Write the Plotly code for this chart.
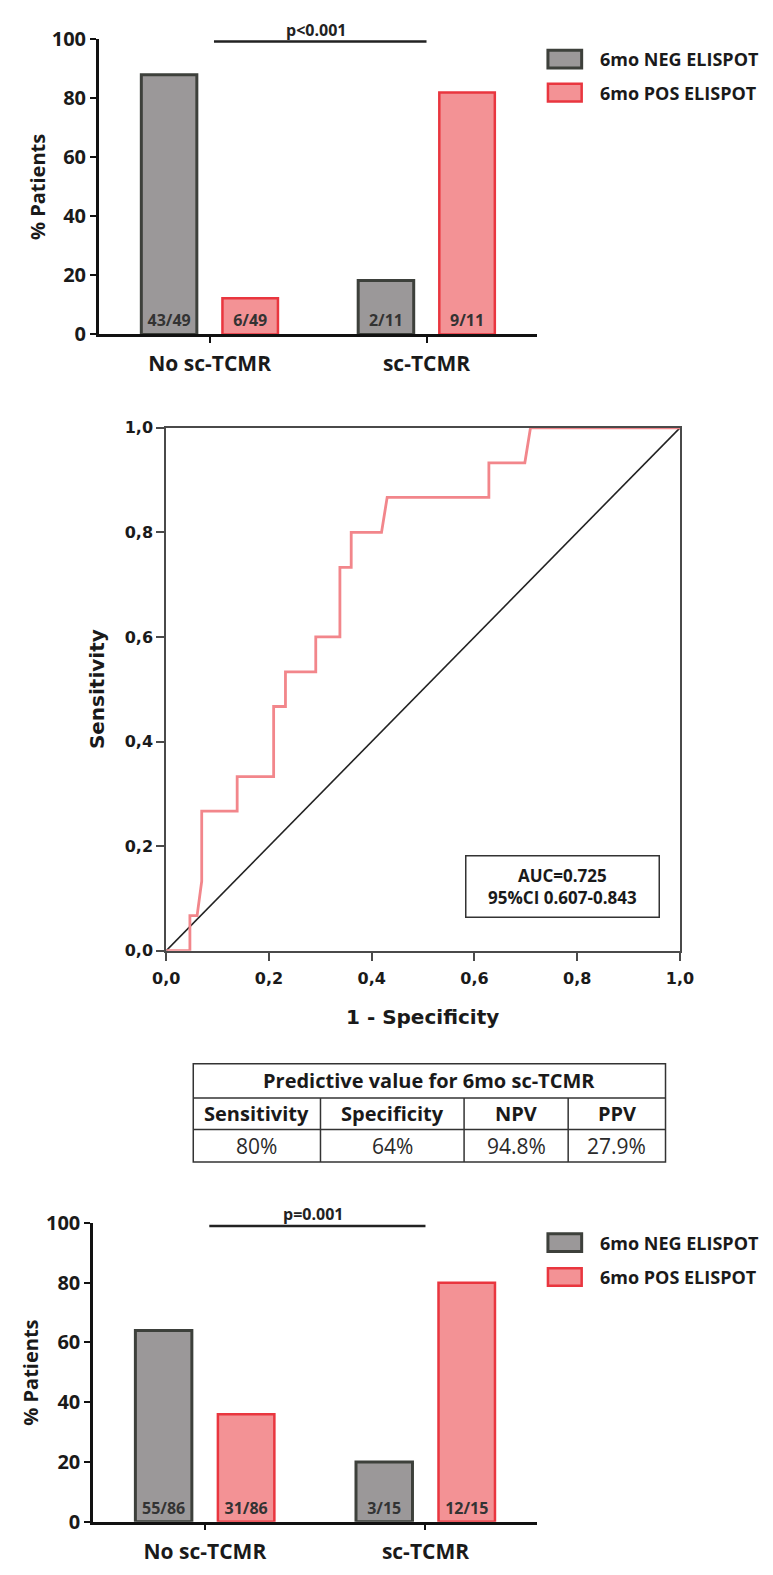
import plotly.graph_objects as go

W, H = 773, 1575

# ---------------- data ----------------
categories = ["No sc-TCMR", "sc-TCMR"]
series_names = ["6mo NEG ELISPOT", "6mo POS ELISPOT"]

top_neg = [87.8, 18.2]
top_pos = [12.2, 81.8]
top_neg_labels = ["43/49", "2/11"]
top_pos_labels = ["6/49", "9/11"]
top_p_text = "p<0.001"

bot_neg = [64.0, 20.0]
bot_pos = [36.0, 80.0]
bot_neg_labels = ["55/86", "3/15"]
bot_pos_labels = ["31/86", "12/15"]
bot_p_text = "p=0.001"

bar_ticks = [0, 20, 40, 60, 80, 100]
y_title_bar = "% Patients"

roc_fpr = [0.0, 0.046, 0.046, 0.060, 0.069, 0.069, 0.138, 0.138, 0.209, 0.209,
           0.232, 0.232, 0.291, 0.291, 0.338, 0.338, 0.360, 0.360, 0.419, 0.430,
           0.628, 0.628, 0.698, 0.709, 1.0]
roc_tpr = [0.0, 0.0, 0.067, 0.067, 0.133, 0.267, 0.267, 0.333, 0.333, 0.467,
           0.467, 0.533, 0.533, 0.600, 0.600, 0.733, 0.733, 0.800, 0.800, 0.867,
           0.867, 0.933, 0.933, 1.0, 1.0]
diag = [0.0, 1.0]
roc_ticks = [0.0, 0.2, 0.4, 0.6, 0.8, 1.0]
roc_ticktext = ["0,0", "0,2", "0,4", "0,6", "0,8", "1,0"]
roc_xtitle = "1 - Specificity"
roc_ytitle = "Sensitivity"
auc_lines = ["AUC=0.725", "95%CI 0.607-0.843"]

table_title = "Predictive value for 6mo sc-TCMR"
table_headers = ["Sensitivity", "Specificity", "NPV", "PPV"]
table_values = ["80%", "64%", "94.8%", "27.9%"]

# ---------------- styles ----------------
GRAY_FILL, GRAY_LINE = "#9b9899", "#3d403b"
RED_FILL, RED_LINE = "#f39295", "#e9363f"
TXT = "#1a1a1a"
FONT = "Open Sans"
ROCFONT = "DejaVu Sans"

# table geometry (pixels)
TAB_COLS = [186, 318, 467, 575, 676]
TAB_ROWS = [1068, 1103, 1135, 1168]


def px(x):
    return x / W


def py(y):
    return 1 - y / H


BW = 0.256
OFF = 0.187

fig = go.Figure()


def add_bars(neg, pos, neg_lab, pos_lab, xa, ya):
    for vals, labs, fill, line, lw, off in [
        (neg, neg_lab, GRAY_FILL, GRAY_LINE, 3, -OFF),
        (pos, pos_lab, RED_FILL, RED_LINE, 2.5, OFF),
    ]:
        fig.add_trace(go.Bar(
            x=categories, y=vals, width=BW, offset=off - BW / 2,
            marker=dict(color=fill, line=dict(color=line, width=lw)),
            text=labs, textposition="inside", insidetextanchor="start",
            textangle=0, constraintext="none",
            textfont=dict(family=FONT, size=16, color="#333333", weight="bold"),
            xaxis=xa, yaxis=ya, showlegend=False, hoverinfo="skip",
        ))


add_bars(top_neg, top_pos, top_neg_labels, top_pos_labels, "x", "y")
add_bars(bot_neg, bot_pos, bot_neg_labels, bot_pos_labels, "x2", "y2")

# ROC
fig.add_trace(go.Scatter(x=diag, y=diag, mode="lines",
                         line=dict(color="#222222", width=1.6),
                         xaxis="x3", yaxis="y3", showlegend=False, hoverinfo="skip"))
fig.add_trace(go.Scatter(x=roc_fpr, y=roc_tpr, mode="lines",
                         line=dict(color="#f2868b", width=2.8),
                         xaxis="x3", yaxis="y3", showlegend=False, hoverinfo="skip",
                         cliponaxis=False))

bar_xaxis = dict(showline=True, linecolor="#111", linewidth=2.5, ticks="outside",
                 ticklen=6, tickwidth=2, tickcolor="#111", showgrid=False, zeroline=False,
                 tickfont=dict(family=FONT, size=21, color=TXT, weight="bold"),
                 ticklabelstandoff=3, fixedrange=True)
bar_yaxis = dict(showline=True, linecolor="#111", linewidth=2.5, ticks="outside",
                 ticklen=6, tickwidth=2, tickcolor="#111", showgrid=False, zeroline=False,
                 range=[0, 100], tickvals=bar_ticks,
                 tickfont=dict(family=FONT, size=20, color=TXT, weight="bold"),
                 fixedrange=True)
roc_axis = dict(showline=True, linecolor="#4a4a4a", linewidth=2, mirror=True,
                ticks="outside", ticklen=8, tickwidth=1.5, tickcolor="#4a4a4a",
                showgrid=False, zeroline=False, range=[0, 1],
                tickvals=roc_ticks, ticktext=roc_ticktext,
                tickfont=dict(family=ROCFONT, size=16, color=TXT, weight="bold"),
                fixedrange=True)

fig.update_layout(
    width=W, height=H, margin=dict(l=0, r=0, t=0, b=0),
    paper_bgcolor="white", plot_bgcolor="white",
    barmode="overlay", showlegend=False,
    xaxis=dict(bar_xaxis, domain=[px(88), px(543)], range=[-0.511, 1.511], anchor="y"),
    yaxis=dict(bar_yaxis, domain=[py(326), py(25)], anchor="x"),
    xaxis2=dict(bar_xaxis, domain=[px(82), px(543)], range=[-0.507, 1.507], anchor="y2"),
    yaxis2=dict(bar_yaxis, domain=[py(1534), py(1230)], anchor="x2"),
    xaxis3=dict(roc_axis, domain=[px(158), px(691)], anchor="y3", ticklabelstandoff=4),
    yaxis3=dict(roc_axis, domain=[py(953), py(421)], anchor="x3"),
)

shapes = []
annotations = []

# p-value brackets
for xa, ya, ptxt in [("x", "y", top_p_text), ("x2", "y2", bot_p_text)]:
    shapes.append(dict(type="line", xref=xa, yref=ya, x0=0.02, x1=1.0, y0=99, y1=99,
                       line=dict(color="#222", width=2.5)))
    annotations.append(dict(text=ptxt, xref=xa, yref=ya, x=0.49, y=99, yanchor="bottom",
                            xanchor="center", showarrow=False, yshift=-1,
                            font=dict(family=FONT, size=16, color="#222", weight="bold")))

# manual legends
for rows in [((37, 55), (71, 89)), ((1241, 1259), (1276, 1294))]:
    for (y0, y1), name, fill, line, lw in [
        (rows[0], series_names[0], GRAY_FILL, GRAY_LINE, 3),
        (rows[1], series_names[1], RED_FILL, RED_LINE, 2.5),
    ]:
        shapes.append(dict(type="rect", xref="paper", yref="paper",
                           x0=px(554), x1=px(589), y0=py(y1), y1=py(y0),
                           fillcolor=fill, line=dict(color=line, width=lw)))
        annotations.append(dict(text=name, xref="paper", yref="paper", x=px(606),
                                y=py((y0 + y1) / 2), xanchor="left", yanchor="middle",
                                showarrow=False,
                                font=dict(family=FONT, size=18, color=TXT, weight="bold")))

# axis titles
annotations.append(dict(text=y_title_bar, xref="paper", yref="paper", x=px(25), y=py(176),
                        textangle=-90, showarrow=False, xanchor="center", yanchor="middle",
                        font=dict(family=FONT, size=20, color=TXT, weight="bold")))
annotations.append(dict(text=y_title_bar, xref="paper", yref="paper", x=px(17), y=py(1382),
                        textangle=-90, showarrow=False, xanchor="center", yanchor="middle",
                        font=dict(family=FONT, size=20, color=TXT, weight="bold")))
annotations.append(dict(text=roc_ytitle, xref="paper", yref="paper", x=px(86), y=py(687),
                        textangle=-90, showarrow=False, xanchor="center", yanchor="middle",
                        font=dict(family=ROCFONT, size=20, color=TXT, weight="bold")))
annotations.append(dict(text=roc_xtitle, xref="paper", yref="paper", x=px(424), y=py(1020),
                        showarrow=False, xanchor="center", yanchor="middle",
                        font=dict(family=ROCFONT, size=20, color=TXT, weight="bold")))

# AUC box
annotations.append(dict(text="<br>".join(auc_lines), xref="x3", yref="y3", x=0.771, y=0.122,
                        showarrow=False, xanchor="center", yanchor="middle", align="center",
                        width=190, height=58, borderpad=1, borderwidth=1.5,
                        bordercolor="#333", bgcolor="white",
                        font=dict(family=FONT, size=17, color=TXT, weight="bold")))

# predictive-value table (drawn with shapes + text)
TL = dict(color="#333333", width=1.5)
shapes.append(dict(type="rect", xref="paper", yref="paper",
                   x0=px(TAB_COLS[0]), x1=px(TAB_COLS[-1]),
                   y0=py(TAB_ROWS[-1]), y1=py(TAB_ROWS[0]),
                   line=TL, fillcolor="white", layer="below"))
for ry in TAB_ROWS[1:-1]:
    shapes.append(dict(type="line", xref="paper", yref="paper",
                       x0=px(TAB_COLS[0]), x1=px(TAB_COLS[-1]), y0=py(ry), y1=py(ry), line=TL))
for cx in TAB_COLS[1:-1]:
    shapes.append(dict(type="line", xref="paper", yref="paper",
                       x0=px(cx), x1=px(cx), y0=py(TAB_ROWS[-1]), y1=py(TAB_ROWS[1]), line=TL))
annotations.append(dict(text=table_title, xref="paper", yref="paper",
                        x=px((TAB_COLS[0] + TAB_COLS[-1]) / 2),
                        y=py((TAB_ROWS[0] + TAB_ROWS[1]) / 2),
                        xanchor="center", yanchor="middle", showarrow=False,
                        font=dict(family=FONT, size=20, color=TXT, weight="bold")))
for i, (hdr, val) in enumerate(zip(table_headers, table_values)):
    cx = (TAB_COLS[i] + TAB_COLS[i + 1]) / 2
    annotations.append(dict(text=hdr, xref="paper", yref="paper", x=px(cx),
                            y=py((TAB_ROWS[1] + TAB_ROWS[2]) / 2),
                            xanchor="center", yanchor="middle", showarrow=False,
                            font=dict(family=FONT, size=20, color=TXT, weight="bold")))
    annotations.append(dict(text=val, xref="paper", yref="paper", x=px(cx),
                            y=py((TAB_ROWS[2] + TAB_ROWS[3]) / 2),
                            xanchor="center", yanchor="middle", showarrow=False,
                            font=dict(family=FONT, size=21, color="#2a2a2a")))

fig.update_layout(shapes=shapes, annotations=annotations)

fig.write_html("out.html")
